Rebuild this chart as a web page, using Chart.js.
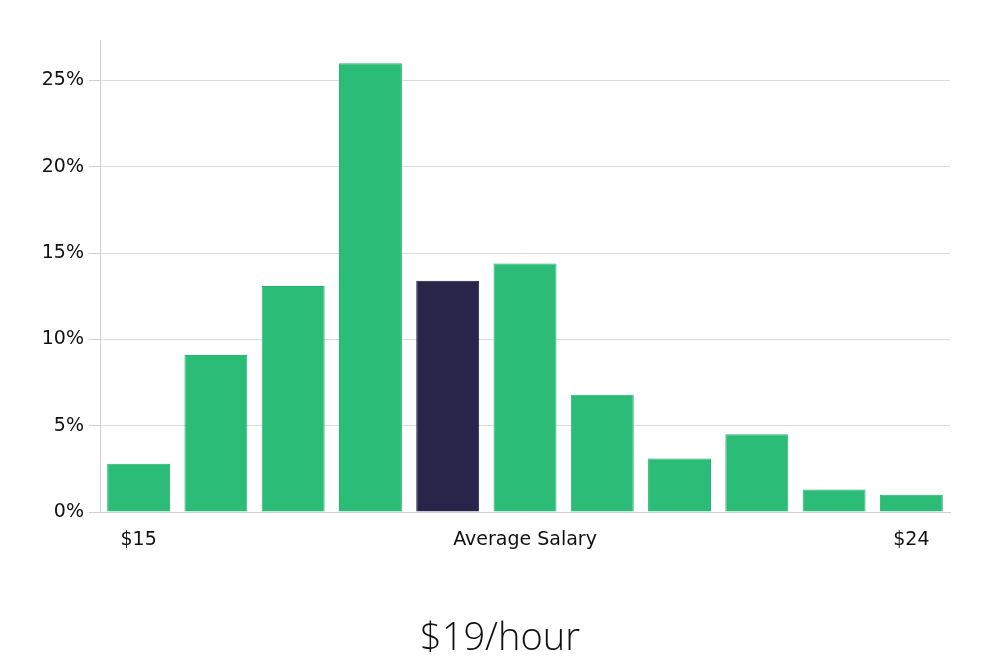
<!DOCTYPE html>
<html>
<head>
<meta charset="utf-8">
<title>Salary distribution</title>
<script src="https://cdn.jsdelivr.net/npm/chart.js@4"></script>
<style>
    html, body { margin: 0; padding: 0; background: #fff; }
    #wrap { position: relative; width: 1000px; height: 660px; }
    #chartTitle {
        position: absolute;
        left: 0;
        top: 610px;
        width: 1000px;
        text-align: center;
        font-family: 'Open Sans', sans-serif;
        font-weight: 300;
        font-size: 38px;
        line-height: 50px;
        color: #111;
    }
</style>
</head>
<body>
<div id="wrap">
    <canvas id="salaryChart" width="1000" height="660"></canvas>
    <div id="chartTitle"></div>
</div>
<script>
// Chart data
const categories = ['$15', '', '', '', '', 'Average Salary', '', '', '', '', '$24'];
const shares = [2.8, 9.1, 13.1, 26.0, 13.4, 14.4, 6.8, 3.1, 4.5, 1.3, 1.0];
const highlightIndex = 4;
const yTicks = [0, 5, 10, 15, 20, 25];
const titleText = '$19/hour';

const green = '#2bbd77';
const greenBorder = '#26b571';
const navy = '#29254a';
const navyBorder = '#1d1a3c';

document.getElementById('chartTitle').textContent = titleText;

const ctx = document.getElementById('salaryChart');

new Chart(ctx, {
    type: 'bar',
    data: {
        labels: categories,
        datasets: [{
            data: shares,
            backgroundColor: shares.map((v, i) => i === highlightIndex ? navy : green),
            borderColor: shares.map((v, i) => i === highlightIndex ? navyBorder : greenBorder),
            borderWidth: 1,
            barPercentage: 0.9,
            categoryPercentage: 0.905
        }]
    },
    options: {
        responsive: false,
        animation: false,
        layout: {
            padding: { top: 40, right: 50, left: 0, bottom: 0 }
        },
        plugins: {
            legend: { display: false },
            tooltip: { enabled: false },
            title: { display: false }
        },
        scales: {
            x: {
                grid: { display: false },
                border: { display: true, color: '#d0d0d0', width: 1 },
                ticks: {
                    color: '#111',
                    autoSkip: false,
                    maxRotation: 0,
                    padding: 9,
                    font: { family: 'DejaVu Sans', size: 19 }
                },
                afterFit: function (scale) { scale.height = 148; }
            },
            y: {
                min: 0,
                max: 27.35,
                grid: {
                    color: '#dcdcdc',
                    tickLength: 11,
                    tickColor: '#cfcfcf'
                },
                border: { display: true, color: '#d0d0d0', width: 1 },
                ticks: {
                    stepSize: 5,
                    includeBounds: false,
                    color: '#111',
                    padding: 5,
                    font: { family: 'DejaVu Sans', size: 19 },
                    callback: function (value) {
                        return yTicks.includes(value) ? value + '%' : '';
                    }
                },
                afterFit: function (scale) { scale.width = 100; }
            }
        }
    }
});
</script>
</body>
</html>
